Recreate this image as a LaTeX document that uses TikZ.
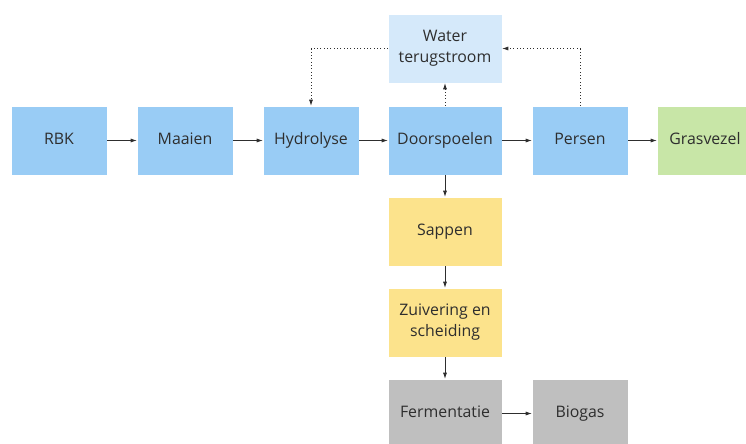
\documentclass[tikz,border=0pt]{standalone}
\usepackage{fontspec}
\setmainfont{Open Sans}
\usetikzlibrary{arrows.meta}
\definecolor{procblue}{HTML}{99CCF5}
\definecolor{waterblue}{HTML}{D5E9FA}
\definecolor{sapyellow}{HTML}{FCE38C}
\definecolor{vezelgreen}{HTML}{C8E6A7}
\definecolor{gasgrey}{HTML}{BFBFBF}
\definecolor{inkgrey}{HTML}{2E2E2E}
\begin{document}
\begin{tikzpicture}[x=0.75pt,y=-0.75pt,
    cell/.style={rectangle, draw=white, line width=0.4pt, text=inkgrey,
      minimum width=72pt, minimum height=51.75pt, align=center,
      font=\fontsize{11.9}{15.75}\selectfont},
    box/.style={cell, text height=8.6pt, text depth=2.6pt},
    wide/.style={box, minimum width=85.5pt},
    twoline/.style={cell, minimum width=85.5pt},
    flow/.style={-{Latex[length=4.5pt,width=3pt]}, draw=inkgrey, line width=0.5pt},
    back/.style={flow, dotted}]
      \useasboundingbox (0,0) rectangle (746,443);
      \clip (0,0) rectangle (746,443);
      \draw
        (59,140.5) node[box, fill=procblue] (rbk){RBK}
        (185,140.5) node[box, fill=procblue] (maaien){Maaien}
        (311,140.5) node[box, fill=procblue] (hydro){Hydrolyse}
        (445,140.5) node[wide, fill=procblue] (spoel){Doorspoelen}
        (580,140.5) node[box, fill=procblue] (persen){Persen}
        (705,140.5) node[box, fill=vezelgreen] (vezel){Grasvezel}
        (445,48.5) node[twoline, fill=waterblue] (water){Water\\terugstroom}
        (445,231.5) node[wide, fill=sapyellow] (sap){Sappen}
        (445,322.5) node[twoline, fill=sapyellow] (zuiv){Zuivering en\\scheiding}
        (445,413.5) node[wide, fill=gasgrey] (ferm){Fermentatie}
        (580,413.5) node[box, fill=gasgrey] (biogas){Biogas};
      \begin{scope}[flow]
        \draw (rbk) to (maaien);
        \draw (maaien) to (hydro);
        \draw (hydro) to (spoel);
        \draw (spoel) to (persen);
        \draw (persen) to (vezel);
        \draw (spoel) to (sap);
        \draw (sap) to (zuiv);
        \draw (zuiv) to (ferm);
        \draw (ferm) to (biogas);
      \end{scope}
      \begin{scope}[back]
        \draw (spoel) to (water);
        \draw (persen.north) |- (water.east);
        \draw (water.west) -| (hydro.north);
      \end{scope}
    \end{tikzpicture}
\end{document}
